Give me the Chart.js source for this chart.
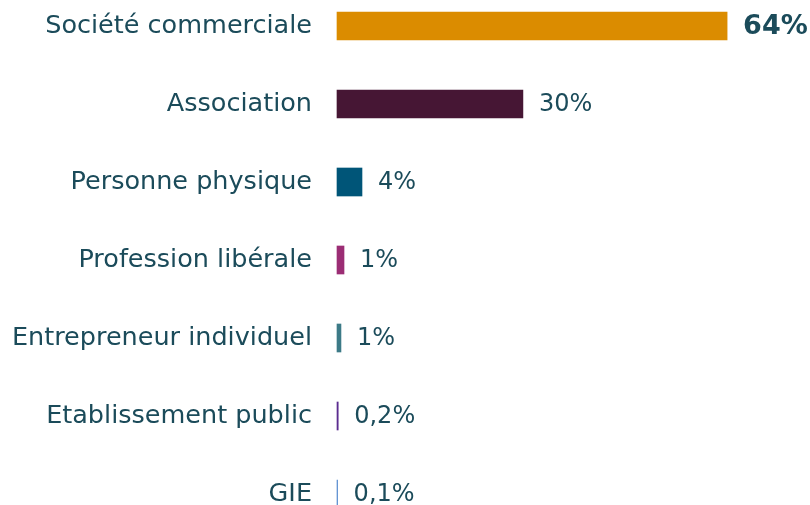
<!DOCTYPE html>
<html>
<head>
<meta charset="utf-8">
<script src="https://cdn.jsdelivr.net/npm/chart.js@4"></script>
<style>
  html, body { margin: 0; padding: 0; background: #fff; }
  #wrap { width: 810px; height: 505px; }
</style>
</head>
<body>
<div id="wrap"><canvas id="chartjs-bar"></canvas></div>
<script>
const categories = ["Société commerciale", "Association", "Personne physique", "Profession libérale", "Entrepreneur individuel", "Etablissement public", "GIE"];
const values = [64, 30.5, 4.1, 1.15, 0.65, 0.2, 0.1];
const valueLabels = ["64%", "30%", "4%", "1%", "1%", "0,2%", "0,1%"];
const barColors = ["#db8c00", "#461634", "#005578", "#9b2d74", "#3c7a87", "#5b2d90", "#5b8ed0"];

const textColor = "#1b4b5a";
const fontFamily = "'DejaVu Sans', sans-serif";

// draws the percentage next to each bar
const valueLabelPlugin = {
  id: "valueLabels",
  afterDatasetsDraw(chart) {
    const ctx = chart.ctx;
    const meta = chart.getDatasetMeta(0);
    ctx.save();
    ctx.textBaseline = "middle";
    ctx.textAlign = "left";
    ctx.fillStyle = textColor;
    meta.data.forEach((bar, i) => {
      ctx.font = i === 0 ? "bold 27px " + fontFamily : "24px " + fontFamily;
      ctx.fillText(valueLabels[i], bar.x + 16, bar.y + 1);
    });
    ctx.restore();
  }
};

new Chart(document.getElementById("chartjs-bar"), {
  type: "bar",
  data: {
    labels: categories,
    datasets: [{
      data: values,
      backgroundColor: barColors,
      borderWidth: 0,
      barThickness: 28,
      clip: false
    }]
  },
  options: {
    indexAxis: "y",
    responsive: true,
    maintainAspectRatio: false,
    animation: false,
    layout: { padding: { top: 26, bottom: 11, left: 0, right: 0 } },
    plugins: {
      legend: { display: false },
      tooltip: { enabled: false }
    },
    scales: {
      x: {
        min: 0,
        max: 77.6,
        display: false
      },
      y: {
        offset: false,
        grid: { display: false, drawTicks: false },
        border: { display: false },
        ticks: {
          color: textColor,
          padding: 25,
          font: { family: fontFamily, size: 25.5 }
        },
        afterFit(scale) {
          scale.width = 337;
          scale.paddingTop = 0;
          scale.paddingBottom = 0;
        }
      }
    }
  },
  plugins: [valueLabelPlugin]
});
</script>
</body>
</html>
